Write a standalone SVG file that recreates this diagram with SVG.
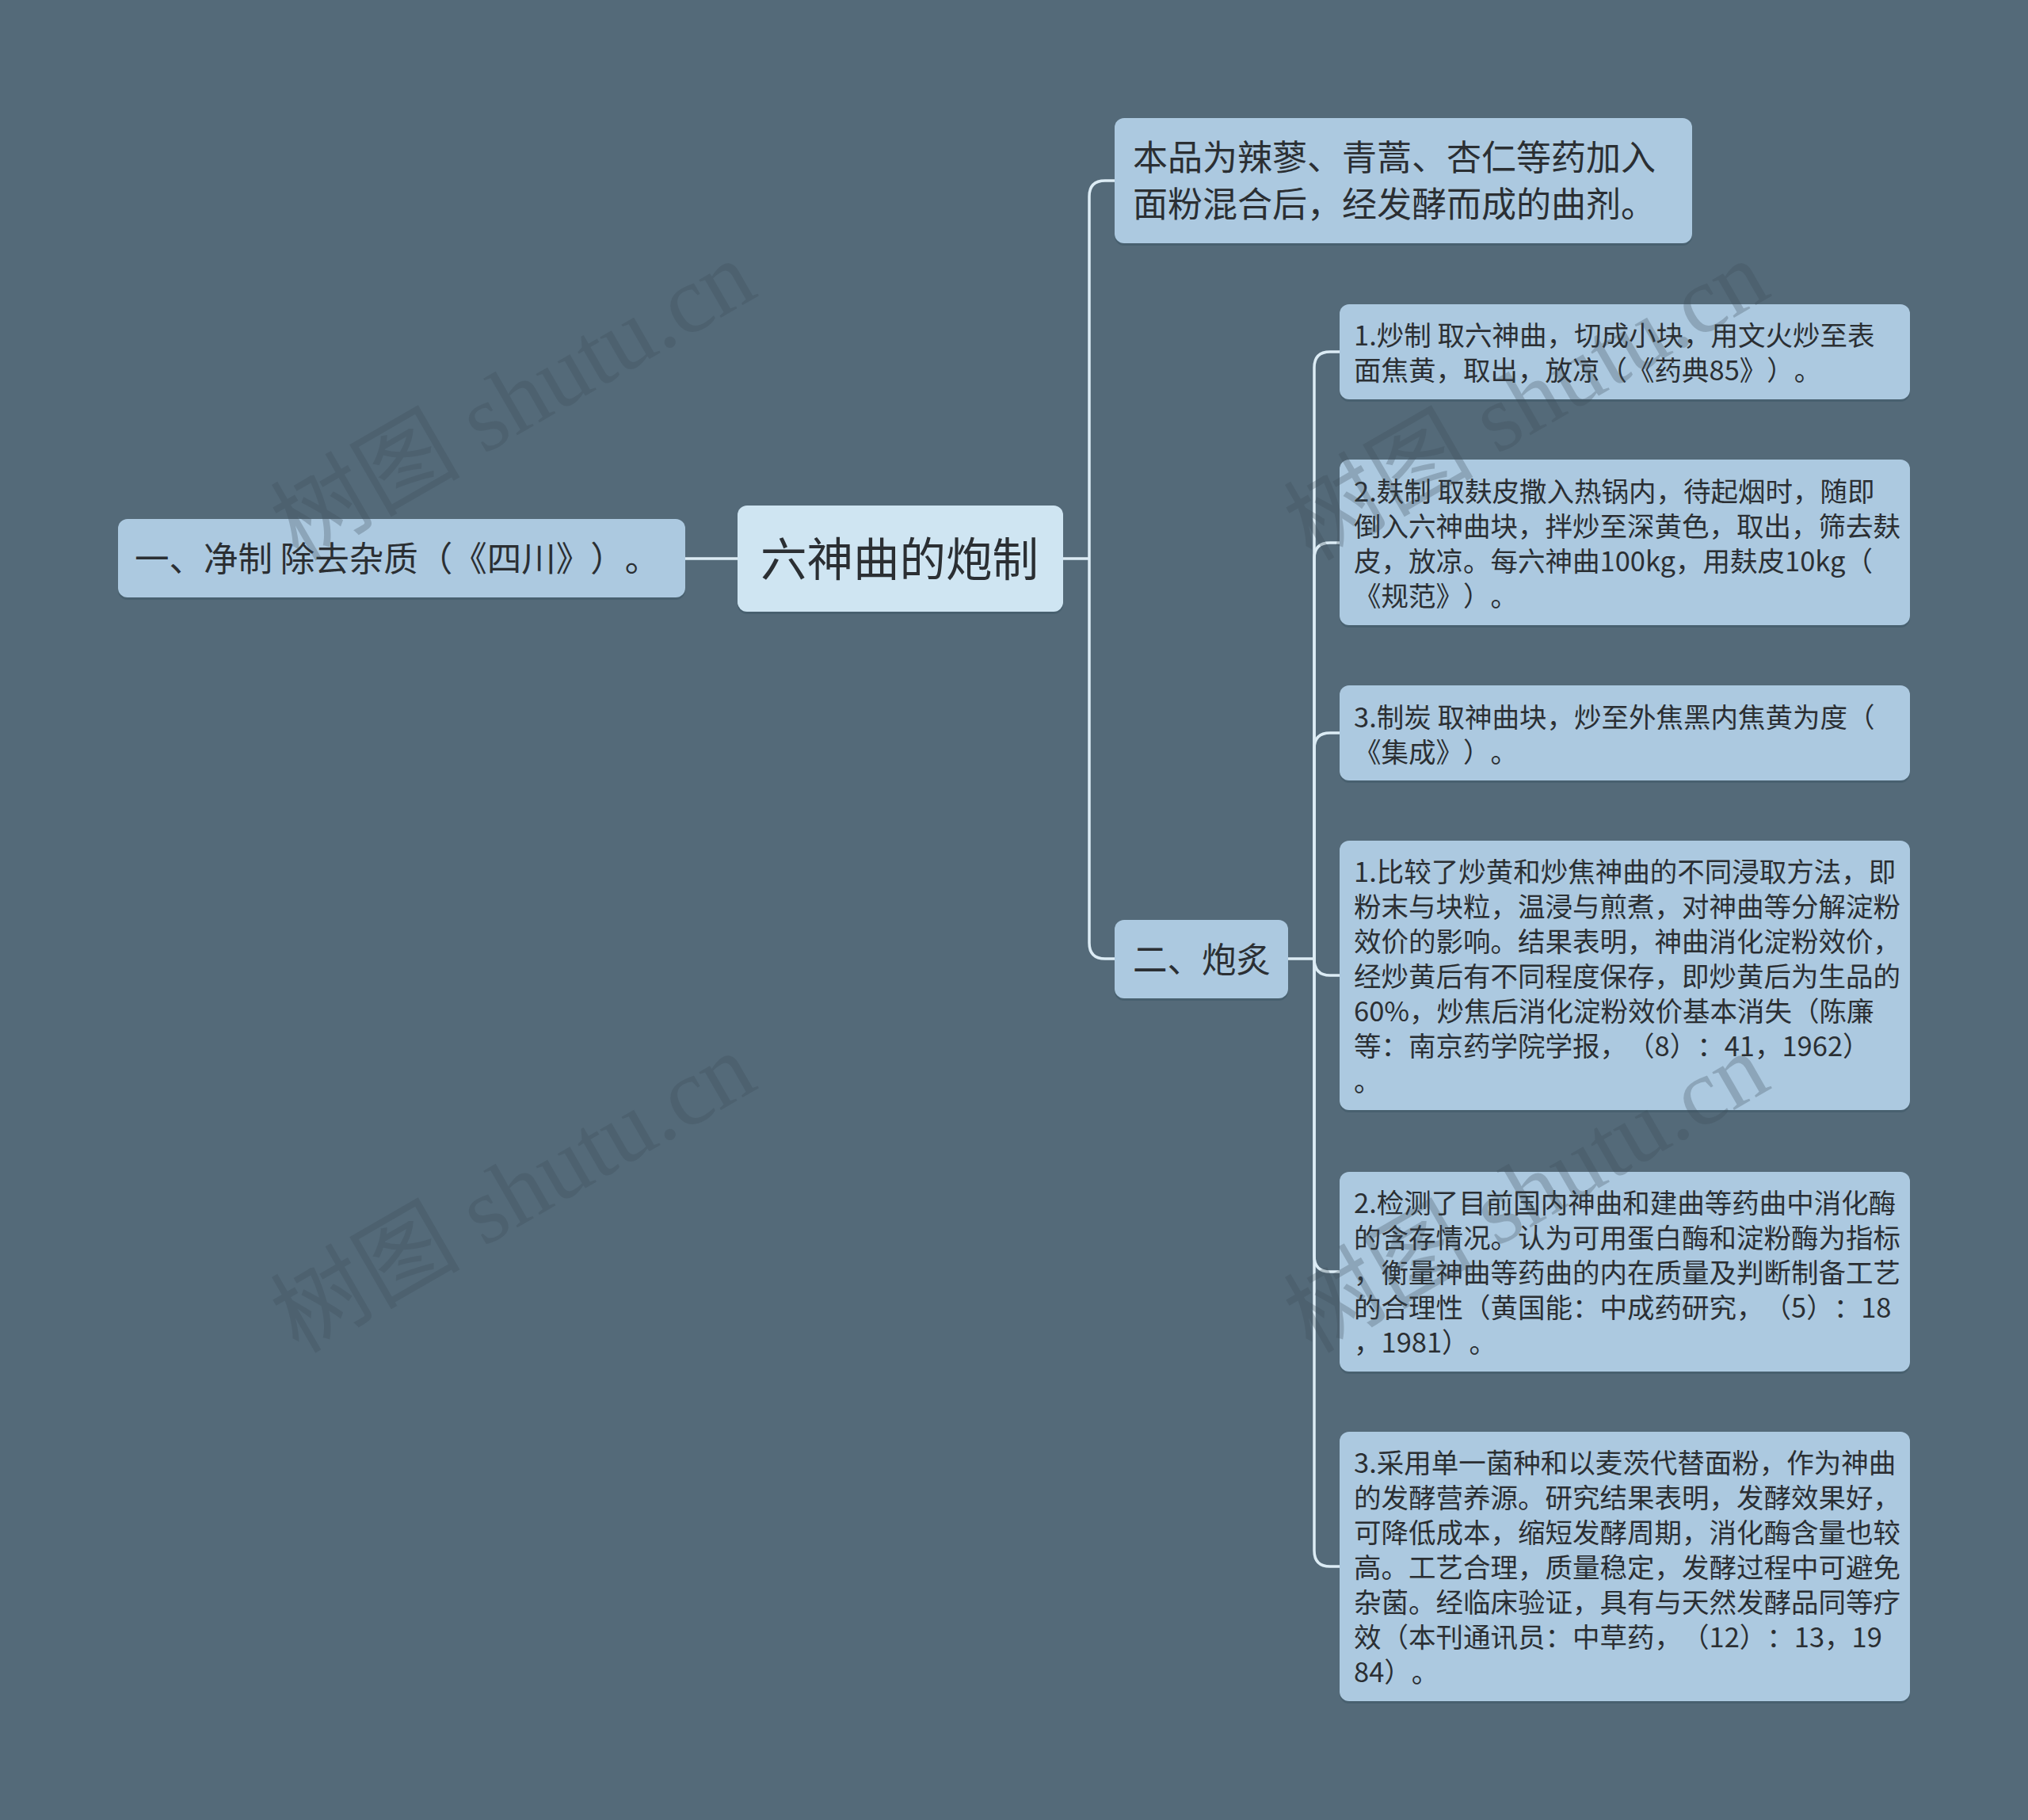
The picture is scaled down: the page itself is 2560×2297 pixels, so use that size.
<svg xmlns="http://www.w3.org/2000/svg" width="2560" height="2297" viewBox="0 0 2560 2297">
<style>
.bg{fill:#546a79}
.node{fill:#acc9e0}
.root{fill:#cfe5f2}
.sh{fill:#48606f}
.t{font-family:"Noto Sans CJK SC","Noto Sans",sans-serif;fill:#2b2f33;text-spacing-trim:space-all;font-feature-settings:"chws" 0,"halt" 0}
.s34{font-size:34.5px}
.s43{font-size:43.5px}
.s44{font-size:44px}
.s40{font-size:43.5px}
.s57{font-size:58.5px}
.conn{fill:none;stroke:#dcecf5;stroke-width:3.5}
.wm{font-family:"Liberation Serif","Noto Sans CJK SC",serif;font-size:120px;fill:#3c4c58;opacity:0.28}
</style>
<rect class="bg" x="0" y="0" width="2560" height="2297"/>

<g id="connectors">
<path class="conn" d="M865,705 H931"/>
<path class="conn" d="M1342,705 H1375"/>
<path class="conn" d="M1407,228 H1395 Q1375,228 1375,248 V1190 Q1375,1210 1395,1210 H1407"/>
<path class="conn" d="M1626,1210 H1659"/>
<path class="conn" d="M1691,444 H1679 Q1659,444 1659,464 V1957 Q1659,1977 1679,1977 H1691"/>
<path class="conn" d="M1659,1210 V705 Q1659,685 1679,685 H1691"/>
<path class="conn" d="M1659,1210 V945 Q1659,925 1679,925 H1691"/>
<path class="conn" d="M1659,1210 Q1659,1231 1679,1231 H1691"/>
<path class="conn" d="M1659,1210 V1585 Q1659,1605 1679,1605 H1691"/>
</g>

<g id="left">
<rect class="sh" x="149" y="658" width="716" height="99" rx="12"/>
<rect class="node" x="149" y="655" width="716" height="99" rx="12"/>
<text class="t s40" x="170" y="721">一、净制 除去杂质（《四川》）。</text>
</g>

<g id="root-node">
<rect class="sh" x="931" y="641" width="411" height="134" rx="12"/>
<rect class="root" x="931" y="638" width="411" height="134" rx="12"/>
<text class="t s57" x="960" y="727">六神曲的炮制</text>
</g>

<g id="desc">
<rect class="sh" x="1407" y="152" width="729" height="158" rx="12"/>
<rect class="node" x="1407" y="149" width="729" height="158" rx="12"/>
<text class="t s44" x="1430" y="215">本品为辣蓼、青蒿、杏仁等药加入<tspan x="1430" dy="59">面粉混合后，经发酵而成的曲剂。</tspan></text>
</g>

<g id="paozhi">
<rect class="sh" x="1407" y="1164" width="219" height="99" rx="12"/>
<rect class="node" x="1407" y="1161" width="219" height="99" rx="12"/>
<text class="t s43" x="1430" y="1227">二、炮炙</text>
</g>

<g id="c1">
<rect class="sh" x="1691" y="387" width="720" height="120" rx="12"/>
<rect class="node" x="1691" y="384" width="720" height="120" rx="12"/>
<text class="t s34" x="1709" y="436">1.炒制 取六神曲，切成小块，用文火炒至表<tspan x="1709" dy="44">面焦黄，取出，放凉（《药典85》）。</tspan></text>
</g>

<g id="c2">
<rect class="sh" x="1691" y="583" width="720" height="209" rx="12"/>
<rect class="node" x="1691" y="580" width="720" height="209" rx="12"/>
<text class="t s34" x="1709" y="633">2.麸制 取麸皮撒入热锅内，待起烟时，随即<tspan x="1709" dy="44">倒入六神曲块，拌炒至深黄色，取出，筛去麸</tspan><tspan x="1709" dy="44">皮，放凉。每六神曲100kg，用麸皮10kg（</tspan><tspan x="1709" dy="44">《规范》）。</tspan></text>
</g>

<g id="c3">
<rect class="sh" x="1691" y="868" width="720" height="120" rx="12"/>
<rect class="node" x="1691" y="865" width="720" height="120" rx="12"/>
<text class="t s34" x="1709" y="918">3.制炭 取神曲块，炒至外焦黑内焦黄为度（<tspan x="1709" dy="44">《集成》）。</tspan></text>
</g>

<g id="c4">
<rect class="sh" x="1691" y="1064" width="720" height="340" rx="12"/>
<rect class="node" x="1691" y="1061" width="720" height="340" rx="12"/>
<text class="t s34" x="1709" y="1113">1.比较了炒黄和炒焦神曲的不同浸取方法，即<tspan x="1709" dy="44">粉末与块粒，温浸与煎煮，对神曲等分解淀粉</tspan><tspan x="1709" dy="44">效价的影响。结果表明，神曲消化淀粉效价，</tspan><tspan x="1709" dy="44">经炒黄后有不同程度保存，即炒黄后为生品的</tspan><tspan x="1709" dy="44">60%，炒焦后消化淀粉效价基本消失（陈廉</tspan><tspan x="1709" dy="44">等：南京药学院学报，（8）：41，1962）</tspan><tspan x="1709" dy="44">。</tspan></text>
</g>

<g id="c5">
<rect class="sh" x="1691" y="1482" width="720" height="252" rx="12"/>
<rect class="node" x="1691" y="1479" width="720" height="252" rx="12"/>
<text class="t s34" x="1709" y="1531">2.检测了目前国内神曲和建曲等药曲中消化酶<tspan x="1709" dy="44">的含存情况。认为可用蛋白酶和淀粉酶为指标</tspan><tspan x="1709" dy="44">，衡量神曲等药曲的内在质量及判断制备工艺</tspan><tspan x="1709" dy="44">的合理性（黄国能：中成药研究，（5）：18</tspan><tspan x="1709" dy="44">，1981）。</tspan></text>
</g>

<g id="c6">
<rect class="sh" x="1691" y="1810" width="720" height="340" rx="12"/>
<rect class="node" x="1691" y="1807" width="720" height="340" rx="12"/>
<text class="t s34" x="1709" y="1859">3.采用单一菌种和以麦茨代替面粉，作为神曲<tspan x="1709" dy="44">的发酵营养源。研究结果表明，发酵效果好，</tspan><tspan x="1709" dy="44">可降低成本，缩短发酵周期，消化酶含量也较</tspan><tspan x="1709" dy="44">高。工艺合理，质量稳定，发酵过程中可避免</tspan><tspan x="1709" dy="44">杂菌。经临床验证，具有与天然发酵品同等疗</tspan><tspan x="1709" dy="44">效（本刊通讯员：中草药，（12）：13，19</tspan><tspan x="1709" dy="44">84）。</tspan></text>
</g>

<g id="watermarks">
<text class="wm" x="648" y="546" text-anchor="middle" transform="rotate(-30 648 506)">树图 shutu.cn</text>
<text class="wm" x="648" y="1546" text-anchor="middle" transform="rotate(-30 648 1506)">树图 shutu.cn</text>
<text class="wm" x="1927" y="546" text-anchor="middle" transform="rotate(-30 1927 506)">树图 shutu.cn</text>
<text class="wm" x="1927" y="1546" text-anchor="middle" transform="rotate(-30 1927 1506)">树图 shutu.cn</text>
</g>
</svg>
